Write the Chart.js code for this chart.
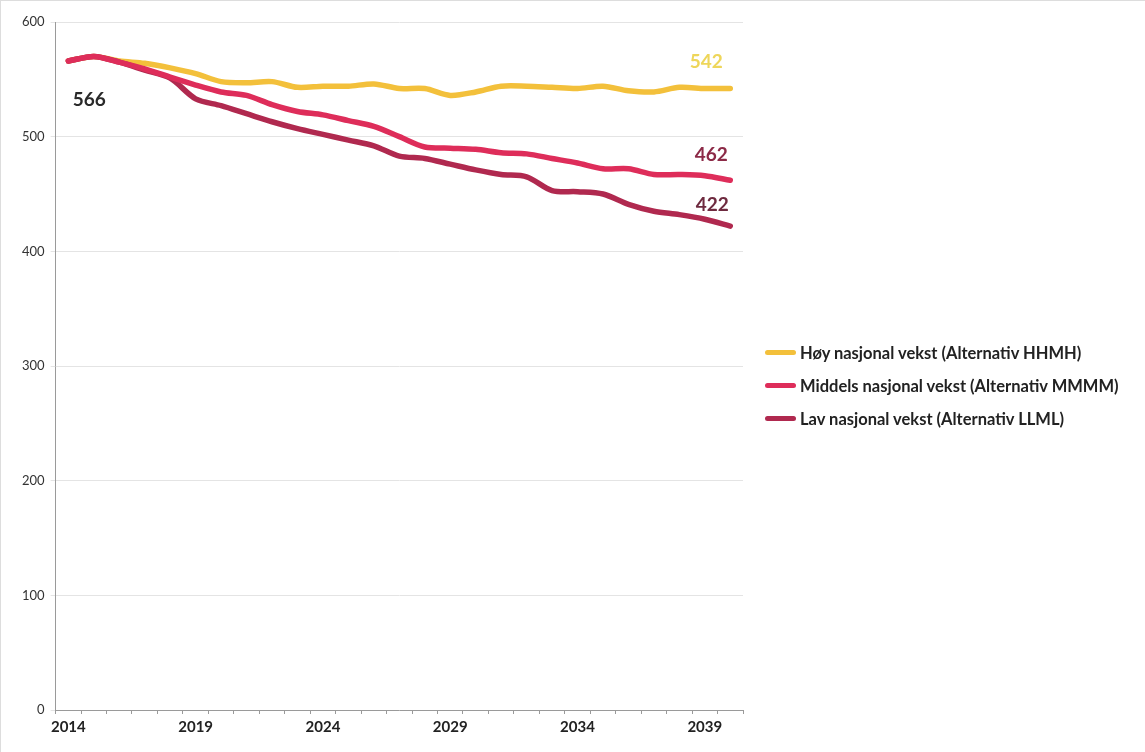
<!DOCTYPE html>
<html>
<head>
<meta charset="utf-8">
<script src="https://cdn.jsdelivr.net/npm/chart.js@4.4.1/dist/chart.umd.min.js"></script>
<style>
  html, body { margin: 0; padding: 0; background: #fff; }
  #wrap { position: relative; width: 1145px; height: 752px; box-sizing: border-box; border-left: 1px solid #ddd; border-top: 1px solid #ddd; }
  #legend { position: absolute; left: 764px; top: 335px; font-family: Lato, "Open Sans", sans-serif; font-weight: bold; font-size: 16.5px; color: #222; }
  #legend .item { display: flex; align-items: center; height: 33px; white-space: nowrap; }
  #legend .sw { width: 31px; height: 5px; border-radius: 3px; margin-right: 4px; }
</style>
</head>
<body>
<div id="wrap"><canvas id="chart"></canvas><div id="legend"></div></div>
<script>
// År
const years = [2014, 2015, 2016, 2017, 2018, 2019, 2020, 2021, 2022, 2023, 2024, 2025, 2026,
               2027, 2028, 2029, 2030, 2031, 2032, 2033, 2034, 2035, 2036, 2037, 2038, 2039, 2040];

// Høy nasjonal vekst (HHMH)
const hoy = [566, 570, 566, 564, 560, 555, 548, 547, 548, 543, 544, 544, 546,
             542, 542, 536, 539, 544, 544, 543, 542, 544, 540, 539, 543, 542, 542];

// Middels nasjonal vekst (MMMM)
const middels = [566, 570, 565, 559, 552, 545, 539, 536, 528, 522, 519, 514, 509,
                 500, 491, 490, 489, 486, 485, 481, 477, 472, 472, 467, 467, 466, 462];

// Lav nasjonal vekst (LLML)
const lav = [566, 570, 565, 558, 551, 533, 527, 520, 513, 507, 502, 497, 492,
             483, 481, 476, 471, 467, 465, 453, 452, 450, 441, 435, 432, 428, 422];

const yTicks = [0, 100, 200, 300, 400, 500, 600];

const seriesNames = [
    'Høy nasjonal vekst (Alternativ HHMH)',
    'Middels nasjonal vekst (Alternativ MMMM)',
    'Lav nasjonal vekst (Alternativ LLML)'
];

const colors = ['#f3c03b', '#de2d5a', '#b0294f'];

// Verdietiketter på start og slutt
const valueLabels = [
    { ds: 2, idx: 0, dx: 21, dy: 39, color: '#2a2a2a' },
    { ds: 0, idx: years.length - 1, dx: -24, dy: -27, color: '#eed65a' },
    { ds: 1, idx: years.length - 1, dx: -19, dy: -25, color: '#8c2a47' },
    { ds: 2, idx: years.length - 1, dx: -18, dy: -21, color: '#6e2a3f' }
];

const labelPlugin = {
    id: 'valueLabels',
    afterDatasetsDraw(chart) {
        const ctx = chart.ctx;
        ctx.save();
        ctx.font = 'bold 19px Lato, "Open Sans", sans-serif';
        ctx.textAlign = 'center';
        ctx.textBaseline = 'middle';
        valueLabels.forEach(l => {
            const pt = chart.getDatasetMeta(l.ds).data[l.idx];
            const v = chart.data.datasets[l.ds].data[l.idx];
            ctx.fillStyle = l.color;
            ctx.fillText(String(v), pt.x + l.dx, pt.y + l.dy);
        });
        ctx.restore();
    }
};

const ctx = document.getElementById('chart').getContext('2d');
const chart = new Chart(ctx, {
    type: 'line',
    data: {
        labels: years,
        datasets: [
            { label: seriesNames[0], data: hoy, borderColor: colors[0], backgroundColor: colors[0], order: 3 },
            { label: seriesNames[1], data: middels, borderColor: colors[1], backgroundColor: colors[1], order: 1 },
            { label: seriesNames[2], data: lav, borderColor: colors[2], backgroundColor: colors[2], order: 2 }
        ]
    },
    options: {
        responsive: true,
        maintainAspectRatio: false,
        animation: false,
        elements: {
            line: { borderWidth: 5.5, tension: 0.3, borderCapStyle: 'round', borderJoinStyle: 'round' },
            point: { radius: 0 }
        },
        layout: { padding: { left: 15, top: 21, right: 402, bottom: 12 } },
        scales: {
            x: {
                offset: true,
                grid: { offset: true, drawOnChartArea: false, tickLength: 4, color: '#9a9a9a' },
                border: { color: '#9a9a9a' },
                ticks: {
                    autoSkip: false,
                    maxRotation: 0,
                    padding: 4,
                    color: '#222',
                    font: { family: 'Lato', size: 15, weight: 'bold' },
                    callback: function(val, i) { return i % 5 === 0 ? this.getLabelForValue(val) : ''; }
                }
            },
            y: {
                min: 0,
                max: 600,
                afterBuildTicks: axis => { axis.ticks = yTicks.map(v => ({ value: v })); },
                grid: { color: '#e4e4e4', tickLength: 5 },
                border: { color: '#9a9a9a' },
                ticks: {
                    color: '#333',
                    padding: 6,
                    font: { family: 'Lato', size: 13 }
                }
            }
        },
        plugins: {
            tooltip: { enabled: false },
            legend: { display: false }
        }
    },
    plugins: [labelPlugin]
});

// Forklaring
const legendEl = document.getElementById('legend');
chart.data.datasets.forEach(d => {
    const item = document.createElement('div');
    item.className = 'item';
    const sw = document.createElement('span');
    sw.className = 'sw';
    sw.style.background = d.borderColor;
    const txt = document.createElement('span');
    txt.textContent = d.label;
    item.appendChild(sw);
    item.appendChild(txt);
    legendEl.appendChild(item);
});
</script>
</body>
</html>
